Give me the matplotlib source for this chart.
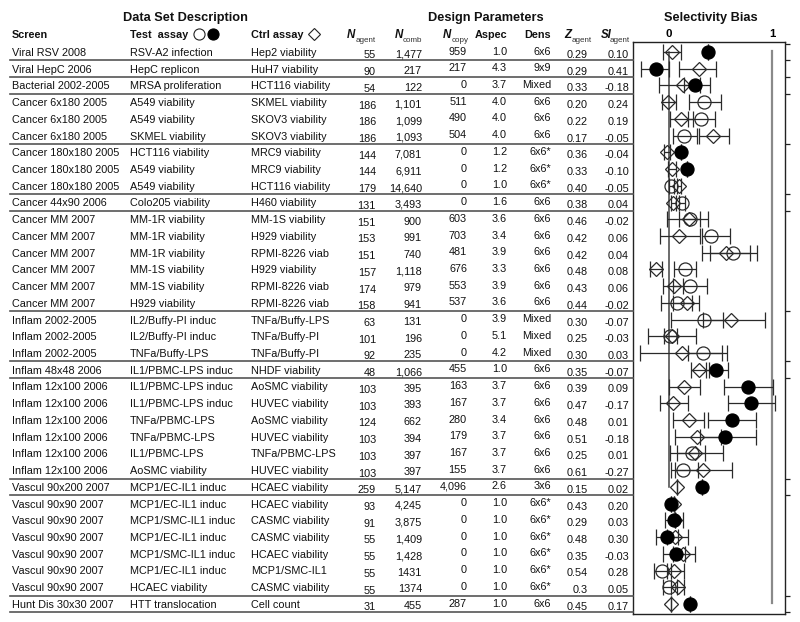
import matplotlib
matplotlib.use('Agg')
import matplotlib.pyplot as plt
from matplotlib.lines import Line2D
from matplotlib.transforms import blended_transform_factory
import numpy as np

plt.rcParams['font.family'] = ['Liberation Sans', 'DejaVu Sans']

# ---------------- data ----------------
screens = ["Viral RSV 2008", "Viral HepC 2006", "Bacterial 2002-2005",
           "Cancer 6x180 2005", "Cancer 6x180 2005", "Cancer 6x180 2005",
           "Cancer 180x180 2005", "Cancer 180x180 2005", "Cancer 180x180 2005",
           "Cancer 44x90 2006",
           "Cancer MM 2007", "Cancer MM 2007", "Cancer MM 2007",
           "Cancer MM 2007", "Cancer MM 2007", "Cancer MM 2007",
           "Inflam 2002-2005", "Inflam 2002-2005", "Inflam 2002-2005",
           "Inflam 48x48 2006",
           "Inflam 12x100 2006", "Inflam 12x100 2006", "Inflam 12x100 2006",
           "Inflam 12x100 2006", "Inflam 12x100 2006", "Inflam 12x100 2006",
           "Vascul 90x200 2007",
           "Vascul 90x90 2007", "Vascul 90x90 2007", "Vascul 90x90 2007",
           "Vascul 90x90 2007", "Vascul 90x90 2007", "Vascul 90x90 2007",
           "Hunt Dis 30x30 2007"]
test_assays = ["RSV-A2 infection", "HepC replicon", "MRSA proliferation",
               "A549 viability", "A549 viability", "SKMEL viability",
               "HCT116 viability", "A549 viability", "A549 viability",
               "Colo205 viability",
               "MM-1R viability", "MM-1R viability", "MM-1R viability",
               "MM-1S viability", "MM-1S viability", "H929 viability",
               "IL2/Buffy-PI induc", "IL2/Buffy-PI induc", "TNFa/Buffy-LPS",
               "IL1/PBMC-LPS induc",
               "IL1/PBMC-LPS induc", "IL1/PBMC-LPS induc", "TNFa/PBMC-LPS",
               "TNFa/PBMC-LPS", "IL1/PBMC-LPS", "AoSMC viability",
               "MCP1/EC-IL1 induc",
               "MCP1/EC-IL1 induc", "MCP1/SMC-IL1 induc", "MCP1/EC-IL1 induc",
               "MCP1/SMC-IL1 induc", "MCP1/EC-IL1 induc", "HCAEC viability",
               "HTT translocation"]
ctrl_assays = ["Hep2 viability", "HuH7 viability", "HCT116 viability",
               "SKMEL viability", "SKOV3 viability", "SKOV3 viability",
               "MRC9 viability", "MRC9 viability", "HCT116 viability",
               "H460 viability",
               "MM-1S viability", "H929 viability", "RPMI-8226 viab",
               "H929 viability", "RPMI-8226 viab", "RPMI-8226 viab",
               "TNFa/Buffy-LPS", "TNFa/Buffy-PI", "TNFa/Buffy-PI",
               "NHDF viability",
               "AoSMC viability", "HUVEC viability", "AoSMC viability",
               "HUVEC viability", "TNFa/PBMC-LPS", "HUVEC viability",
               "HCAEC viability",
               "HCAEC viability", "CASMC viability", "CASMC viability",
               "HCAEC viability", "MCP1/SMC-IL1", "CASMC viability",
               "Cell count"]
n_agent = ["55", "90", "54", "186", "186", "186", "144", "144", "179", "131",
           "151", "153", "151", "157", "174", "158", "63", "101", "92", "48",
           "103", "103", "124", "103", "103", "103", "259",
           "93", "91", "55", "55", "55", "55", "31"]
n_comb = ["1,477", "217", "122", "1,101", "1,099", "1,093", "7,081", "6,911",
          "14,640", "3,493", "900", "991", "740", "1,118", "979", "941",
          "131", "196", "235", "1,066", "395", "393", "662", "394", "397",
          "397", "5,147", "4,245", "3,875", "1,409", "1,428", "1431", "1374",
          "455"]
n_copy = ["959", "217", "0", "511", "490", "504", "0", "0", "0", "0",
          "603", "703", "481", "676", "553", "537", "0", "0", "0", "455",
          "163", "167", "280", "179", "167", "155", "4,096",
          "0", "0", "0", "0", "0", "0", "287"]
aspec = ["1.0", "4.3", "3.7", "4.0", "4.0", "4.0", "1.2", "1.2", "1.0", "1.6",
         "3.6", "3.4", "3.9", "3.3", "3.9", "3.6", "3.9", "5.1", "4.2", "1.0",
         "3.7", "3.7", "3.4", "3.7", "3.7", "3.7", "2.6",
         "1.0", "1.0", "1.0", "1.0", "1.0", "1.0", "1.0"]
dens = ["6x6", "9x9", "Mixed", "6x6", "6x6", "6x6", "6x6*", "6x6*", "6x6*",
        "6x6", "6x6", "6x6", "6x6", "6x6", "6x6", "6x6", "Mixed", "Mixed",
        "Mixed", "6x6", "6x6", "6x6", "6x6", "6x6", "6x6", "6x6", "3x6",
        "6x6*", "6x6*", "6x6*", "6x6*", "6x6*", "6x6*", "6x6"]
z_agent = ["0.29", "0.29", "0.33", "0.20", "0.22", "0.17", "0.36", "0.33",
           "0.40", "0.38", "0.46", "0.42", "0.42", "0.48", "0.43", "0.44",
           "0.30", "0.25", "0.30", "0.35", "0.39", "0.47", "0.48", "0.51",
           "0.25", "0.61", "0.15", "0.43", "0.29", "0.48", "0.35", "0.54",
           "0.3", "0.45"]
si_agent = ["0.10", "0.41", "-0.18", "0.24", "0.19", "-0.05", "-0.04", "-0.10",
            "-0.05", "0.04", "-0.02", "0.06", "0.04", "0.08", "0.06", "-0.02",
            "-0.07", "-0.03", "0.03", "-0.07", "0.09", "-0.17", "0.01", "-0.18",
            "0.01", "-0.27", "0.02", "0.20", "0.03", "0.30", "-0.03", "0.28",
            "0.05", "0.17"]

# selectivity bias: test assay (circle), control assay (diamond)
test_filled = [1, 1, 1, 0, 0, 0, 1, 1, 0, 0, 0, 0, 0, 0, 0, 0, 0, 0, 0, 1,
               1, 1, 1, 1, 0, 0, 1, 1, 1, 1, 1, 0, 0, 1]
test_x = [0.38, -0.13, 0.25, 0.34, 0.31, 0.15, 0.12, 0.17, 0.02, 0.13,
          0.20, 0.41, 0.62, 0.16, 0.20, 0.08, 0.34, 0.01, 0.33, 0.46,
          0.77, 0.80, 0.61, 0.54, 0.22, 0.14, 0.32, 0.02, 0.05, -0.02,
          0.07, -0.07, 0.00, 0.20]
test_lo = [0.38, -0.27, 0.15, 0.19, 0.18, 0.04, 0.12, 0.17, 0.00, 0.10,
           0.10, 0.32, 0.40, 0.05, 0.04, -0.08, 0.02, -0.05, 0.18, 0.36,
           0.53, 0.57, 0.38, 0.30, 0.08, 0.02, 0.32, 0.02, -0.04, -0.13,
           -0.06, -0.15, -0.06, 0.20]
test_hi = [0.38, 0.00, 0.40, 0.50, 0.45, 0.27, 0.12, 0.17, 0.05, 0.16,
           0.30, 0.59, 0.85, 0.26, 0.37, 0.22, 0.52, 0.08, 0.51, 0.57,
           1.01, 1.03, 0.84, 0.84, 0.35, 0.28, 0.32, 0.02, 0.14, 0.09,
           0.16, 0.02, 0.08, 0.20]
ctrl_x = [0.03, 0.29, 0.14, -0.01, 0.12, 0.43, -0.02, 0.03, 0.10, 0.04,
          0.19, 0.10, 0.55, -0.13, 0.05, 0.17, 0.60, 0.03, 0.13, 0.29,
          0.15, 0.04, 0.19, 0.27, 0.25, 0.33, 0.08, 0.05, 0.06, 0.06,
          0.14, 0.05, 0.09, 0.02]
ctrl_lo = [-0.055, 0.10, -0.10, -0.07, 0.01, 0.29, -0.05, -0.01, 0.08, 0.02,
           -0.02, -0.09, 0.32, -0.18, -0.06, 0.04, 0.33, -0.20, -0.28, 0.21,
           0.00, -0.09, 0.04, 0.06, 0.01, 0.06, 0.08, 0.05, 0.06, -0.02,
           0.04, -0.02, 0.02, 0.02]
ctrl_hi = [0.12, 0.46, 0.30, 0.07, 0.23, 0.58, 0.01, 0.07, 0.12, 0.07,
           0.38, 0.30, 0.79, -0.07, 0.14, 0.29, 0.93, 0.26, 0.56, 0.39,
           0.30, 0.18, 0.34, 0.50, 0.52, 0.61, 0.08, 0.05, 0.06, 0.18,
           0.25, 0.15, 0.15, 0.02]

group_ends = [1, 2, 3, 6, 9, 10, 16, 19, 20, 26, 27, 33, 34]

# ---------------- layout ----------------
W, H = 800, 622
fig = plt.figure(figsize=(W / 100, H / 100), dpi=100)
fig.patch.set_facecolor('white')

def fx(px):
    return px / W

def fy(py):
    return 1 - py / H

ax = fig.add_axes([fx(633), fy(614), (785 - 633) / W, (614 - 42) / H])
ax.set_xlim(-0.3495, 1.126)
ax.set_ylim(34.60, 0.402)

n = len(screens)
rows = np.arange(1, n + 1)
tx = np.array(test_x); tl = np.array(test_lo); th = np.array(test_hi)
cx = np.array(ctrl_x); cl = np.array(ctrl_lo); ch = np.array(ctrl_hi)
filled = np.array(test_filled, dtype=bool)

ecol = '#2a2a2a'
# reference lines
ax.plot([0, 0], [1, 27], color='#444444', lw=1.1, zorder=1)
ax.plot([1, 1], [0.96, 33.95], color='#8a8a8a', lw=1.6, zorder=1)

ax.errorbar(cx, rows, xerr=[cx - cl, ch - cx], fmt='none', ecolor=ecol,
            elinewidth=0.9, capsize=5.5, capthick=0.9, zorder=2)
ax.errorbar(tx, rows, xerr=[tx - tl, th - tx], fmt='none', ecolor=ecol,
            elinewidth=0.9, capsize=5.5, capthick=0.9, zorder=2)
ax.plot(cx, rows, 'D', ms=6.7, mfc='none', mec=ecol, mew=0.9, ls='none', zorder=3)
ax.plot(tx[~filled], rows[~filled], 'o', ms=9.4, mfc='none', mec=ecol, mew=0.9,
        ls='none', zorder=3)
ax.plot(tx[filled], rows[filled], 'o', ms=9.4, mfc='black', mec='black', mew=0.9,
        ls='none', zorder=4)

# axes styling
for s in ax.spines.values():
    s.set_color('#222222')
    s.set_linewidth(1.0)
ax.yaxis.tick_right()
ax.set_yticks([0.5] + [g + 0.5 for g in group_ends])
ax.tick_params(axis='y', direction='out', length=3.5, width=0.9, color='#222222',
               labelright=False, labelleft=False)
ax.xaxis.tick_top()
ax.set_xticks([0, 1])
ax.set_xticklabels(['0', '1'], fontsize=8.2, fontweight='bold')
ax.tick_params(axis='x', length=0, pad=2.5)

# ---------------- table ----------------
tr = blended_transform_factory(fig.transFigure, ax.transData)
base = 3.9 / 16.727  # baseline offset (rows)
cols = [
    (screens, 12, 'left', 0.0),
    (test_assays, 130, 'left', 0.0),
    (ctrl_assays, 251, 'left', 0.0),
    (n_agent, 376, 'right', 0.15),
    (n_comb, 422, 'right', 0.08),
    (n_copy, 467, 'right', -0.08),
    (aspec, 507, 'right', -0.08),
    (dens, 551, 'right', -0.08),
    (z_agent, 588, 'right', 0.12),
    (si_agent, 629, 'right', 0.12),
]
for vals, xpx, ha, dy in cols:
    for r, v in zip(rows, vals):
        fig.text(fx(xpx), r + base + dy, v, transform=tr, ha=ha, va='baseline',
                 fontsize=7.8, color='#111111')

for g in group_ends:
    fig.add_artist(Line2D([fx(10), fx(633)], [g + 0.5, g + 0.5], transform=tr,
                          color='#555555', lw=1.2))

# group titles
for label, cxp in [("Data Set Description", 185), ("Design Parameters", 486),
                   ("Selectivity Bias", 711)]:
    fig.text(fx(cxp), fy(20.6), label, ha='center', va='baseline',
             fontsize=9.2, fontweight='bold', color='#111111')

# column headers
hy = fy(38)
fig.text(fx(12), hy, "Screen", ha='left', va='baseline', fontsize=7.8,
         fontweight='bold', color='#111111')
fig.text(fx(130), hy, "Test  assay", ha='left', va='baseline', fontsize=7.8,
         fontweight='bold', color='#111111')
fig.text(fx(251), hy, "Ctrl assay", ha='left', va='baseline', fontsize=7.8,
         fontweight='bold', color='#111111')
fig.add_artist(Line2D([fx(198.5)], [fy(34)], transform=fig.transFigure, marker='o',
                      ms=8, mfc='none', mec='#222222', mew=0.8))
fig.add_artist(Line2D([fx(212.5)], [fy(34)], transform=fig.transFigure, marker='o',
                      ms=8, mfc='black', mec='black', mew=0.8))
fig.add_artist(Line2D([fx(314)], [fy(34)], transform=fig.transFigure, marker='D',
                      ms=6.0, mfc='none', mec='#222222', mew=0.8))

for main, sub, xm, xs in [("N", "agent", 347, 356), ("N", "comb", 394.5, 403),
                          ("N", "copy", 443, 451.5), ("Z", "agent", 564, 571.5),
                          ("SI", "agent", 601, 610)]:
    fig.text(fx(xm), hy, main, ha='left', va='baseline', fontsize=8.3,
             fontweight='bold', fontstyle='italic', color='#111111')
    fig.text(fx(xs), fy(41.5), sub, ha='left', va='baseline', fontsize=5.8,
             color='#333333')
fig.text(fx(507), hy, "Aspec", ha='right', va='baseline', fontsize=7.8,
         fontweight='bold', color='#111111')
fig.text(fx(551), hy, "Dens", ha='right', va='baseline', fontsize=7.8,
         fontweight='bold', color='#111111')

fig.savefig('out.png', dpi=100, facecolor='white')
